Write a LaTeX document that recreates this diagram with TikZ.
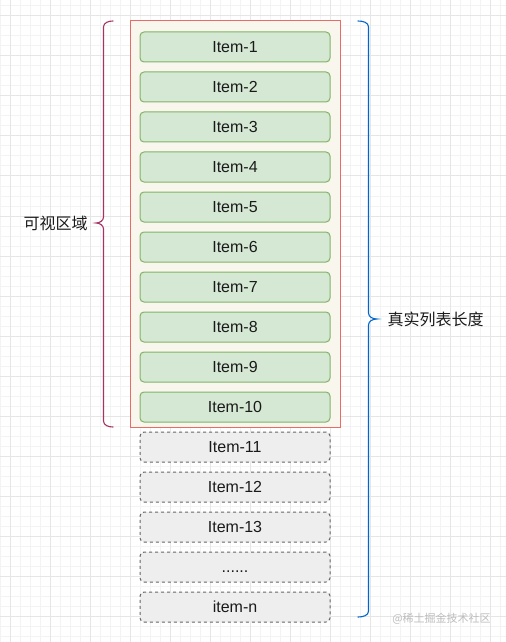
\documentclass[tikz,border=0pt]{standalone}
\usepackage{fontspec}
\setmainfont{Liberation Sans}
\newfontfamily\cjk{Noto Sans CJK SC}
\definecolor{gridminor}{HTML}{F3F3F3}
\definecolor{gridmajor}{HTML}{E6E6E6}
\definecolor{boxred}{HTML}{EA6B66}
\definecolor{boxcream}{HTML}{F9F7ED}
\definecolor{itemgreen}{HTML}{D5E8D4}
\definecolor{itemgreenline}{HTML}{82B366}
\definecolor{itemgray}{HTML}{EEEEEE}
\definecolor{itemgrayline}{HTML}{666666}
\definecolor{bracepink}{HTML}{A83263}
\definecolor{braceblue}{HTML}{0066CC}
\definecolor{txt}{HTML}{1A1A1A}
\definecolor{wm}{HTML}{BDBDBD}
\tikzset{
  minorline/.style={gridminor, line width=1bp},
  majorline/.style={gridmajor, line width=1bp},
  container/.style={draw=boxred, fill=boxcream, line width=1bp, minimum width=210bp, minimum height=406bp, inner sep=0pt},
  itembase/.style={line width=1bp, rounded corners=4bp, minimum width=190bp, minimum height=30bp, inner sep=0pt, text=txt, text height=13.3bp, text depth=1.7bp, font=\fontsize{16bp}{19bp}\selectfont},
  shown/.style={itembase, draw=itemgreenline, fill=itemgreen},
  hidden/.style={itembase, draw=itemgrayline, fill=itemgray, dash pattern=on 3bp off 3bp},
  label/.style={text=txt, inner sep=0pt, font=\cjk\fontsize{16bp}{19bp}\selectfont},
  brace/.style={line width=1.1bp, line cap=round},
}
\begin{document}
\begin{tikzpicture}[x=1bp, y=-1bp]
\useasboundingbox (0,0) rectangle (506,642);
\fill[white] (0,0) rectangle (506,642);
% grid
\foreach \x in {0,10,...,500} \draw[minorline] (\x,0) -- (\x,642);
\foreach \y in {6,16,...,636} \draw[minorline] (0,\y) -- (506,\y);
\foreach \x in {10,50,...,490} \draw[majorline] (\x,0) -- (\x,642);
\foreach \y in {16,56,...,616} \draw[majorline] (0,\y) -- (506,\y);
% container
\node[container] (viewport) at (235,224) {};
% items
\foreach \k in {1,...,10} {
  \node[shown] (item\k) at (235,{47+40*(\k-1)}) {Item-\k};
}
\node[hidden] (item11) at (235,447) {Item-11};
\node[hidden] (item12) at (235,487) {Item-12};
\node[hidden] (item13) at (235,527) {Item-13};
\node[hidden] (itemdots) at (235,567) {......};
\node[hidden] (itemn) at (235,607) {item-n};
% left brace
\draw[brace, bracepink] (113,21) to[out=180,in=90] (103.5,27) -- (103.5,217)
  to[out=-90,in=0] (96,223) to[out=0,in=90] (103.5,229) -- (103.5,421)
  to[out=-90,in=180] (113,427);
\node[label] (visible) at (55.5,223) {可视区域};
% right brace
\draw[brace, braceblue] (358,21) to[out=0,in=90] (368.5,27) -- (368.5,313)
  to[out=-90,in=180] (377,319) to[out=180,in=90] (368.5,325) -- (368.5,611)
  to[out=-90,in=0] (358,617);
\node[label] (total) at (435.5,319) {真实列表长度};
% watermark
\node[text=wm, inner sep=0pt, font=\cjk\fontsize{11bp}{13bp}\selectfont] (mark) at (441.5,619) {@稀土掘金技术社区};
\end{tikzpicture}
\end{document}
